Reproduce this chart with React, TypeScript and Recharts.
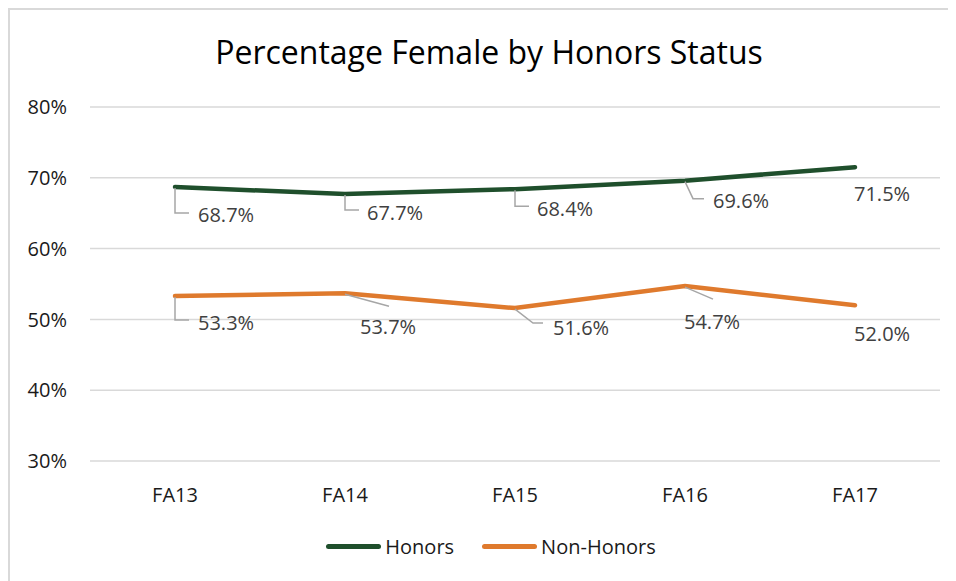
import React from "react";
import { LineChart, Line, XAxis, YAxis, CartesianGrid } from "recharts";

const terms = ["FA13", "FA14", "FA15", "FA16", "FA17"];
const honors = [68.7, 67.7, 68.4, 69.6, 71.5];
const nonHonors = [53.3, 53.7, 51.6, 54.7, 52.0];
const yTicks = [30, 40, 50, 60, 70, 80];

const data = terms.map((t, i) => ({ term: t, honors: honors[i], nonHonors: nonHonors[i] }));

const FONT = "'Open Sans', sans-serif";
const GREEN = "#1f4f2c";
const ORANGE = "#df7a2d";

const series = [
  { key: "honors", name: "Honors", color: GREEN },
  { key: "nonHonors", name: "Non-Honors", color: ORANGE },
];

// where Excel dropped each data label, relative to its point, plus its leader line
type Spot = { dx: number; dy: number; leader?: number[][] };
const honorsSpots: Spot[] = [
  { dx: 23, dy: 27, leader: [[0, 1], [0, 26], [14, 26]] },
  { dx: 22, dy: 18, leader: [[0, 1], [0, 16], [14, 16]] },
  { dx: 22, dy: 19, leader: [[0, 1], [0, 17], [14, 17]] },
  { dx: 28, dy: 20, leader: [[0, 1], [8, 18], [19, 18]] },
  { dx: -1, dy: 26 },
];
const nonHonorsSpots: Spot[] = [
  { dx: 23, dy: 26, leader: [[0, 1], [0, 24], [14, 24]] },
  { dx: 15, dy: 33, leader: [[0, 1], [44, 13]] },
  { dx: 38, dy: 19, leader: [[0, 1], [18, 15], [28, 15]] },
  { dx: -1, dy: 35, leader: [[0, 1], [28, 13]] },
  { dx: -1, dy: 28 },
];

const makeLabel = (spots: Spot[]) => (props: any) => {
  const { x, y, index, value } = props;
  const s = spots[index];
  if (!s || x == null || y == null) return null;
  return (
    <g key={`lbl-${index}`}>
      {s.leader && (
        <polyline
          points={s.leader.map(([a, b]) => `${x + a},${y + b}`).join(" ")}
          fill="none"
          stroke="#a6a6a6"
          strokeWidth={1.5}
        />
      )}
      <text
        x={x + s.dx}
        y={y + s.dy}
        textAnchor="start"
        dominantBaseline="central"
        fontFamily={FONT}
        fontSize={20}
        fill="#404040"
      >
        {Number(value).toFixed(1)}%
      </text>
    </g>
  );
};

export default function App() {
  return (
    <div style={{ position: "relative", width: 948, height: 573 }}>
      <div style={{ position: "absolute", inset: 0, borderTop: "2px solid #d9d9d9", borderLeft: "2px solid #d9d9d9", pointerEvents: "none" }} />
      <div
        style={{
          position: "absolute",
          top: 27,
          left: 7,
          width: 948,
          textAlign: "center",
          fontFamily: FONT,
          fontSize: 32,
          lineHeight: "34px",
          color: "#000",
        }}
      >
        Percentage Female by Honors Status
      </div>
      <LineChart width={948} height={573} data={data} margin={{ top: 99, right: 16, left: 0, bottom: 80 }}>
        <CartesianGrid vertical={false} stroke="#d9d9d9" strokeWidth={1.5} />
        <XAxis
          dataKey="term"
          axisLine={false}
          tickLine={false}
          tickSize={0}
          tickMargin={27}
          height={40}
          padding={{ left: 85, right: 85 }}
          tick={{ fontFamily: FONT, fontSize: 20, fill: "#1a1a1a" }}
        />
        <YAxis
          domain={[30, 80]}
          ticks={yTicks}
          width={82}
          axisLine={false}
          tickLine={false}
          tickSize={0}
          tickMargin={23}
          tickFormatter={(v) => `${v}%`}
          tick={{ fontFamily: FONT, fontSize: 20, fill: "#1a1a1a" }}
        />
        <Line
          name="Honors"
          dataKey="honors"
          stroke={GREEN}
          strokeWidth={4.5}
          strokeLinecap="round"
          dot={false}
          type="linear"
          isAnimationActive={false}
          label={makeLabel(honorsSpots)}
        />
        <Line
          name="Non-Honors"
          dataKey="nonHonors"
          stroke={ORANGE}
          strokeWidth={4.5}
          strokeLinecap="round"
          dot={false}
          type="linear"
          isAnimationActive={false}
          label={makeLabel(nonHonorsSpots)}
        />
      </LineChart>
      <div
        style={{
          position: "absolute",
          top: 524,
          left: 0,
          width: 948,
          height: 28,
          display: "flex",
          justifyContent: "center",
          alignItems: "center",
          paddingLeft: 18,
          boxSizing: "border-box",
          fontFamily: FONT,
          fontSize: 20,
          color: "#1a1a1a",
        }}
      >
        {series.map((s) => (
          <div key={s.key} style={{ display: "flex", alignItems: "center", margin: "0 14px" }}>
            <span style={{ display: "inline-block", width: 55, height: 5, borderRadius: 3, background: s.color, marginRight: 4 }} />
            <span>{s.name}</span>
          </div>
        ))}
      </div>
    </div>
  );
}
